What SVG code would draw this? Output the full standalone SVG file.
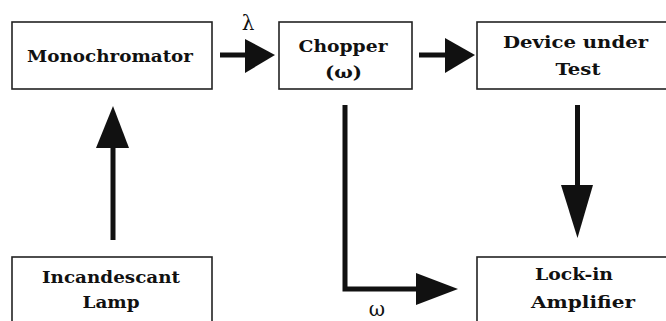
<svg xmlns="http://www.w3.org/2000/svg" width="666" height="321" viewBox="0 0 666 321">
<style>
.box{fill:#fff;stroke:#222;stroke-width:1.6}
.lbl{font-family:"DejaVu Serif","Liberation Serif",serif;font-weight:bold;font-size:17px;fill:#111;text-anchor:middle}
.sym{font-family:"DejaVu Serif","Liberation Serif",serif;font-size:20px;fill:#111;text-anchor:middle}
.ln{fill:none;stroke:#111;stroke-width:5}
.hd{fill:#111;stroke:none}
</style>
<rect width="666" height="321" fill="#fff"/>
<g id="monochromator">
<rect class="box" x="12" y="22" width="200" height="67"/>
<text class="lbl" x="110" y="62" textLength="166" lengthAdjust="spacingAndGlyphs">Monochromator</text>
</g>
<g id="chopper">
<rect class="box" x="279" y="22" width="133" height="67"/>
<text class="lbl" x="343" y="52" textLength="89" lengthAdjust="spacingAndGlyphs">Chopper</text>
<text class="lbl" x="343.5" y="78" textLength="37" lengthAdjust="spacingAndGlyphs">(ω)</text>
</g>
<g id="device">
<rect class="box" x="477" y="22" width="200" height="67"/>
<text class="lbl" x="575.5" y="48" textLength="145" lengthAdjust="spacingAndGlyphs">Device under</text>
<text class="lbl" x="578" y="75" textLength="45" lengthAdjust="spacingAndGlyphs">Test</text>
</g>
<g id="lamp">
<rect class="box" x="12" y="257" width="200" height="80"/>
<text class="lbl" x="111" y="283" textLength="138" lengthAdjust="spacingAndGlyphs">Incandescant</text>
<text class="lbl" x="111" y="308" textLength="57" lengthAdjust="spacingAndGlyphs">Lamp</text>
</g>
<g id="lockin">
<rect class="box" x="477" y="257" width="200" height="80"/>
<text class="lbl" x="574" y="280" textLength="78" lengthAdjust="spacingAndGlyphs">Lock-in</text>
<text class="lbl" x="583" y="308" textLength="104" lengthAdjust="spacingAndGlyphs">Amplifier</text>
</g>
<g id="connectors">
<line class="ln" x1="220" y1="55" x2="247" y2="55"/>
<polygon class="hd" points="245,39 275,55 245,73"/>
<text class="sym" x="248" y="30">λ</text>
<line class="ln" x1="419" y1="55" x2="447" y2="55"/>
<polygon class="hd" points="445,38 475,55 445,73"/>
<line class="ln" x1="113" y1="240" x2="113" y2="146"/>
<polygon class="hd" points="96,148 113,106 129,148"/>
<polyline class="ln" points="345,105 345,289 418,289"/>
<polygon class="hd" points="416,273 458,289 416,305"/>
<text class="sym" x="377" y="316">ω</text>
<line class="ln" x1="577.5" y1="105" x2="577.5" y2="187"/>
<polygon class="hd" points="561,185 593,185 577.5,238"/>
</g>
</svg>
